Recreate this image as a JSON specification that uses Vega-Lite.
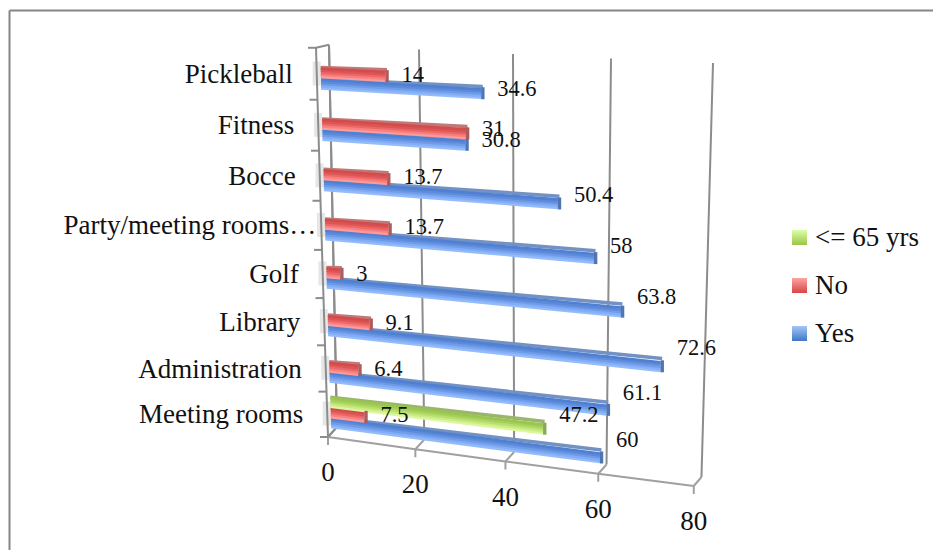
{
  "$schema": "https://vega.github.io/schema/vega-lite/v6.json",
  "width": 924,
  "height": 540,
  "padding": {"left": 9, "top": 10, "right": 0, "bottom": 0},
  "autosize": "none",
  "background": "white",
  "config": {"view": {"stroke": null}, "font": "Liberation Serif"},
  "datasets": {
    "survey": [
      {"category": "Meeting rooms", "series": "Yes", "value": 60},
      {"category": "Administration", "series": "Yes", "value": 61.1},
      {"category": "Library", "series": "Yes", "value": 72.6},
      {"category": "Golf", "series": "Yes", "value": 63.8},
      {"category": "Party/meeting rooms…", "series": "Yes", "value": 58},
      {"category": "Bocce", "series": "Yes", "value": 50.4},
      {"category": "Fitness", "series": "Yes", "value": 30.8},
      {"category": "Pickleball", "series": "Yes", "value": 34.6},
      {"category": "Meeting rooms", "series": "No", "value": 7.5},
      {"category": "Administration", "series": "No", "value": 6.4},
      {"category": "Library", "series": "No", "value": 9.1},
      {"category": "Golf", "series": "No", "value": 3},
      {"category": "Party/meeting rooms…", "series": "No", "value": 13.7},
      {"category": "Bocce", "series": "No", "value": 13.7},
      {"category": "Fitness", "series": "No", "value": 31},
      {"category": "Pickleball", "series": "No", "value": 14},
      {"category": "Meeting rooms", "series": "<= 65 yrs", "value": 47.2}
    ],
    "valueTicks": [{"v": 0}, {"v": 20}, {"v": 40}, {"v": 60}, {"v": 80}],
    "slots": [
      {"slot": 0, "category": "Meeting rooms"},
      {"slot": 1, "category": "Administration"},
      {"slot": 2, "category": "Library"},
      {"slot": 3, "category": "Golf"},
      {"slot": 4, "category": "Party/meeting rooms…"},
      {"slot": 5, "category": "Bocce"},
      {"slot": 6, "category": "Fitness"},
      {"slot": 7, "category": "Pickleball"},
      {"slot": 8, "category": ""}
    ]
  },
  "data": {"name": "survey"},
  "transform": [
    {"calculate": "indexof(['Meeting rooms','Administration','Library','Golf','Party/meeting rooms…','Bocce','Fitness','Pickleball'], datum.category) + {'Yes':0.2,'No':0.42,'<= 65 yrs':0.65}[datum.series]", "as": "t"},
    {"calculate": "331.3 - 1.43*datum.t", "as": "sx0"},
    {"calculate": "datum.sx0 + datum.value*(4.47 + 0.062*datum.t - 0.0055*datum.t*datum.t)", "as": "sx1"},
    {"calculate": "437 - 44.9*datum.t - 0.469*datum.t*datum.t", "as": "sy0"},
    {"calculate": "datum.sy0 + datum.value*(0.592 - 0.0447*datum.t)", "as": "sy1"}
  ],
  "layer": [
    {
      "data": {"name": "slots"},
      "transform": [
        {"filter": "datum.slot < 8"},
        {"calculate": "datum.slot + 0.43", "as": "t"},
        {"calculate": "331.3 - 1.43*datum.t", "as": "sx"},
        {"calculate": "datum.sx - 8", "as": "sxEnd"},
        {"calculate": "437 - 44.9*datum.t - 0.469*datum.t*datum.t - 4", "as": "sy"}
      ],
      "mark": {"type": "rule", "stroke": "#e6e6e6", "strokeWidth": 24},
      "encoding": {
        "x": {"field": "sx", "type": "quantitative", "scale": {"domain": [9, 933], "nice": false, "zero": false}, "axis": {"orient": "top", "labels": false, "ticks": false, "grid": false, "title": null, "domainColor": "#868686", "domainWidth": 2}},
        "x2": {"field": "sxEnd"},
        "y": {"field": "sy", "type": "quantitative", "scale": {"domain": [550, 10], "nice": false, "zero": false}, "axis": {"orient": "left", "labels": false, "ticks": false, "grid": false, "title": null, "domainColor": "#868686", "domainWidth": 2}}
      }
    },
    {
      "data": {"name": "valueTicks"},
      "transform": [
        {"calculate": "337 + 4.3*datum.v + 0.0032*datum.v*datum.v", "as": "bx"},
        {"calculate": "427 + 0.625*datum.v", "as": "by"},
        {"calculate": "329 + 4.4*datum.v + 0.005*datum.v*datum.v", "as": "tx"},
        {"calculate": "45 + 0.225*datum.v", "as": "ty"}
      ],
      "mark": {"type": "rule", "stroke": "#8c8c8c", "strokeWidth": 2},
      "encoding": {
        "x": {"field": "bx", "type": "quantitative"},
        "x2": {"field": "tx"},
        "y": {"field": "by", "type": "quantitative"},
        "y2": {"field": "ty"}
      }
    },
    {
      "data": {"name": "valueTicks"},
      "transform": [
        {"calculate": "337 + 4.3*datum.v + 0.0032*datum.v*datum.v", "as": "bx"},
        {"calculate": "427 + 0.625*datum.v", "as": "by"},
        {"calculate": "328 + 4.3*datum.v + 0.0034*datum.v*datum.v", "as": "fx"},
        {"calculate": "437 + 0.6125*datum.v", "as": "fy"}
      ],
      "mark": {"type": "rule", "stroke": "#a0a0a0", "strokeWidth": 2},
      "encoding": {
        "x": {"field": "fx", "type": "quantitative"},
        "x2": {"field": "bx"},
        "y": {"field": "fy", "type": "quantitative"},
        "y2": {"field": "by"}
      }
    },
    {
      "data": {"name": "valueTicks"},
      "transform": [
        {"calculate": "328 + 4.3*datum.v + 0.0034*datum.v*datum.v", "as": "fx"},
        {"calculate": "437 + 0.6125*datum.v", "as": "fy"}
      ],
      "mark": {"type": "line", "stroke": "#a0a0a0", "strokeWidth": 2},
      "encoding": {
        "x": {"field": "fx", "type": "quantitative"},
        "y": {"field": "fy", "type": "quantitative"}
      }
    },
    {
      "data": {"name": "valueTicks"},
      "transform": [
        {"calculate": "328 + 4.3*datum.v + 0.0034*datum.v*datum.v", "as": "fx"},
        {"calculate": "437 + 0.6125*datum.v", "as": "fy"},
        {"calculate": "datum.fy + 8", "as": "fyEnd"}
      ],
      "mark": {"type": "rule", "stroke": "#a0a0a0", "strokeWidth": 2},
      "encoding": {
        "x": {"field": "fx", "type": "quantitative"},
        "y": {"field": "fy", "type": "quantitative"},
        "y2": {"field": "fyEnd"}
      }
    },
    {
      "data": {"name": "valueTicks"},
      "transform": [
        {"calculate": "328 + 4.3*datum.v + 0.0034*datum.v*datum.v", "as": "fx"},
        {"calculate": "437 + 0.6125*datum.v + 36", "as": "fy"}
      ],
      "mark": {"type": "text", "font": "Liberation Serif", "fontSize": 27, "align": "center", "baseline": "middle", "color": "#111"},
      "encoding": {
        "x": {"field": "fx", "type": "quantitative"},
        "y": {"field": "fy", "type": "quantitative"},
        "text": {"field": "v", "type": "nominal"}
      }
    },
    {
      "data": {"name": "slots"},
      "transform": [
        {"calculate": "328 - 1.5*datum.slot", "as": "wx"},
        {"calculate": "437 - 44.9*datum.slot - 0.469*datum.slot*datum.slot", "as": "wy"}
      ],
      "mark": {"type": "line", "stroke": "#8c8c8c", "strokeWidth": 2},
      "encoding": {
        "x": {"field": "wx", "type": "quantitative"},
        "y": {"field": "wy", "type": "quantitative"},
        "order": {"field": "slot"}
      }
    },
    {
      "data": {"name": "slots"},
      "transform": [
        {"calculate": "337 - datum.slot", "as": "wx"},
        {"calculate": "437 - 44.9*datum.slot - 0.469*datum.slot*datum.slot - 10 + 0.875*datum.slot", "as": "wy"}
      ],
      "mark": {"type": "line", "stroke": "#8c8c8c", "strokeWidth": 2},
      "encoding": {
        "x": {"field": "wx", "type": "quantitative"},
        "y": {"field": "wy", "type": "quantitative"},
        "order": {"field": "slot"}
      }
    },
    {
      "data": {"name": "slots"},
      "transform": [
        {"filter": "datum.slot == 0 || datum.slot == 8"},
        {"calculate": "328 - 1.5*datum.slot", "as": "wx"},
        {"calculate": "437 - 44.9*datum.slot - 0.469*datum.slot*datum.slot", "as": "wy"},
        {"calculate": "337 - datum.slot", "as": "bx"},
        {"calculate": "datum.wy - 10 + 0.875*datum.slot", "as": "by"}
      ],
      "mark": {"type": "rule", "stroke": "#8c8c8c", "strokeWidth": 2},
      "encoding": {
        "x": {"field": "wx", "type": "quantitative"},
        "x2": {"field": "bx"},
        "y": {"field": "wy", "type": "quantitative"},
        "y2": {"field": "by"}
      }
    },
    {
      "data": {"name": "slots"},
      "transform": [
        {"calculate": "328 - 1.5*datum.slot", "as": "wx"},
        {"calculate": "datum.wx - 8", "as": "wxEnd"},
        {"calculate": "437 - 44.9*datum.slot - 0.469*datum.slot*datum.slot", "as": "wy"}
      ],
      "mark": {"type": "rule", "stroke": "#8c8c8c", "strokeWidth": 2},
      "encoding": {
        "x": {"field": "wxEnd", "type": "quantitative"},
        "x2": {"field": "wx"},
        "y": {"field": "wy", "type": "quantitative"}
      }
    },
    {
      "data": {"name": "slots"},
      "transform": [
        {"filter": "datum.slot < 8"},
        {"calculate": "datum.slot + 0.5", "as": "t"},
        {"calculate": "328 - 1.5*datum.t + (indexof(datum.category,'…') >= 0 ? -5 : -24)", "as": "lx"},
        {"calculate": "437 - 44.9*datum.t - 0.469*datum.t*datum.t + 1", "as": "ly"}
      ],
      "mark": {"type": "text", "font": "Liberation Serif", "fontSize": 27, "align": "right", "baseline": "middle", "color": "#111"},
      "encoding": {
        "x": {"field": "lx", "type": "quantitative"},
        "y": {"field": "ly", "type": "quantitative"},
        "text": {"field": "category", "type": "nominal"}
      }
    },
    {
      "transform": [
        {"calculate": "datum.series == 'Yes' ? 'YesTop' : datum.series == 'No' ? 'NoTop' : 'OldTop'", "as": "part"},
        {"calculate": "datum.sy0 - 10.5", "as": "a"},
        {"calculate": "datum.sy1 - 11.5 - 0.025*datum.value", "as": "b"},
        {"calculate": "datum.sx1 + 1.5", "as": "c"}
      ],
      "mark": {"type": "rule", "strokeWidth": 3.5},
      "encoding": {
        "x": {"field": "sx0", "type": "quantitative"},
        "x2": {"field": "c"},
        "y": {"field": "a", "type": "quantitative"},
        "y2": {"field": "b"},
        "stroke": {"field": "part", "type": "nominal", "legend": null, "scale": {"domain": ["Yes0","Yes1","Yes2","Yes3","Yes4","YesTop","YesCap","No0","No1","No2","No3","No4","NoTop","NoCap","Old0","Old1","Old2","Old3","Old4","OldTop","OldCap"], "range": ["#93bcfc","#83adf5","#6f9be8","#5d8bdc","#5080d2","#7391c2","#4f76b2","#ff9a9a","#f98080","#ec6868","#de5555","#d24c4c","#c07878","#ad5c5c","#dcf79e","#cbec84","#b7de6e","#a6d05c","#9ac650","#9ab56c","#8aa85a"]}}
      }
    },
    {
      "transform": [
        {"calculate": "[0,1,2,3,4]", "as": "strip"},
        {"flatten": ["strip"]},
        {"calculate": "(datum.series == 'Yes' ? 'Yes' : datum.series == 'No' ? 'No' : 'Old') + datum.strip", "as": "part"},
        {"calculate": "datum.sy0 - (datum.strip + 0.5)*2.1", "as": "a"},
        {"calculate": "datum.sy1 - (datum.strip + 0.5)*2.1", "as": "b"}
      ],
      "mark": {"type": "rule", "strokeWidth": 2.8},
      "encoding": {
        "x": {"field": "sx0", "type": "quantitative"},
        "x2": {"field": "sx1"},
        "y": {"field": "a", "type": "quantitative"},
        "y2": {"field": "b"},
        "stroke": {"field": "part", "type": "nominal", "legend": null}
      }
    },
    {
      "transform": [
        {"calculate": "datum.series == 'Yes' ? 'YesCap' : datum.series == 'No' ? 'NoCap' : 'OldCap'", "as": "part"},
        {"calculate": "datum.sx1 + 1.6", "as": "c"},
        {"calculate": "datum.sy1 + 0.5", "as": "d"},
        {"calculate": "datum.sy1 - 11.5", "as": "b"}
      ],
      "mark": {"type": "rule", "strokeWidth": 3.4},
      "encoding": {
        "x": {"field": "c", "type": "quantitative"},
        "y": {"field": "d", "type": "quantitative"},
        "y2": {"field": "b"},
        "stroke": {"field": "part", "type": "nominal", "legend": null}
      }
    },
    {
      "transform": [
        {"calculate": "datum.sx1 + 16", "as": "lx"},
        {"calculate": "datum.sy0 + 0.48*(datum.sy1 - datum.sy0) - 5", "as": "ly"}
      ],
      "mark": {"type": "text", "font": "Liberation Serif", "fontSize": 22.5, "align": "left", "baseline": "middle", "color": "#111"},
      "encoding": {
        "x": {"field": "lx", "type": "quantitative"},
        "y": {"field": "ly", "type": "quantitative"},
        "text": {"field": "value", "type": "nominal"}
      }
    },
    {
      "transform": [{"filter": "false"}],
      "mark": {"type": "square", "opacity": 1},
      "encoding": {
        "x": {"field": "sx0", "type": "quantitative"},
        "y": {"field": "sy0", "type": "quantitative"},
        "fill": {
          "field": "series",
          "type": "nominal",
          "scale": {
            "domain": ["<= 65 yrs", "No", "Yes"],
            "range": [
              {"expr": "{gradient:'linear',x1:0,y1:0,x2:0,y2:1,stops:[{offset:0,color:'#dcffa6'},{offset:1,color:'#9cc44a'}]}"},
              {"expr": "{gradient:'linear',x1:0,y1:0,x2:0,y2:1,stops:[{offset:0,color:'#ffa3a3'},{offset:1,color:'#d64545'}]}"},
              {"expr": "{gradient:'linear',x1:0,y1:0,x2:0,y2:1,stops:[{offset:0,color:'#a5c5fa'},{offset:1,color:'#3f78c4'}]}"}
            ]
          },
          "legend": {
            "orient": "none",
            "legendX": 777,
            "legendY": 214,
            "title": null,
            "symbolType": "square",
            "symbolSize": 225,
            "symbolStrokeWidth": 0,
            "symbolOpacity": 1,
            "labelFont": "Liberation Serif",
            "labelFontSize": 27,
            "labelColor": "#111",
            "labelOffset": 2,
            "rowPadding": 20,
            "padding": 0
          }
        }
      }
    }
  ]
}
